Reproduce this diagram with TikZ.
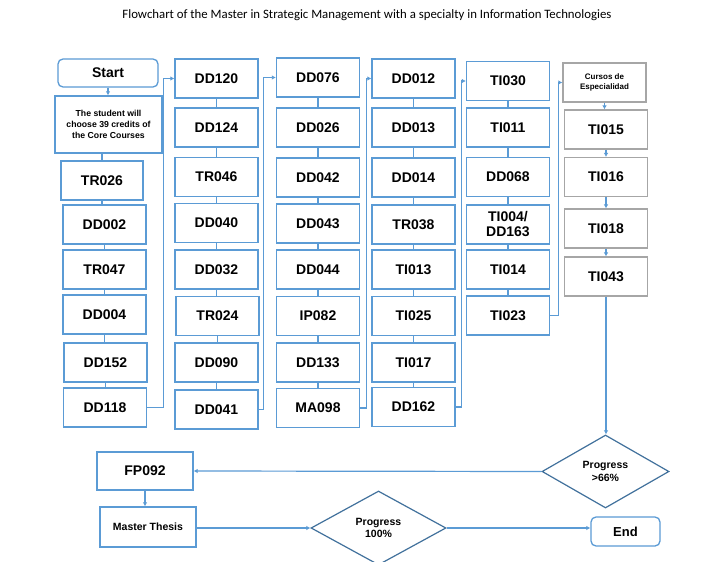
\documentclass[tikz,border=0pt]{standalone}
\usepackage{fontspec}
\setmainfont{Liberation Sans}
\newfontfamily\titlefont{Carlito}
\usetikzlibrary{arrows.meta,shapes.geometric}
\definecolor{bx}{HTML}{5B9BD5}
\definecolor{gr}{HTML}{A6A6A6}
\definecolor{dm}{HTML}{41719C}
\tikzset{
  box/.style={draw=bx, line width=1.3pt, fill=white, minimum width=83pt, minimum height=39pt,
    inner sep=0pt, align=center, font=\bfseries\fontsize{14}{16}\selectfont},
  gbox/.style={box, draw=gr, line width=1.1pt},
  rbox/.style={box, rounded corners=5pt},
  dia/.style={diamond, draw=dm, line width=1.2pt, inner sep=0pt, align=center,
    font=\bfseries\fontsize{10.5}{12.3}\selectfont},
  con/.style={draw=bx, line width=1.2pt},
  arr/.style={con, -{Latex[length=4pt,width=4.5pt]}},
}
\begin{document}
\begin{tikzpicture}[x=1pt,y=-1pt]
\clip (0,0) rectangle (716,562);
\fill[white] (0,0) rectangle (716,562);
\node[font=\titlefont\fontsize{12.8}{15}\selectfont] (title) at (367,15) {Flowchart of the Master in Strategic Management with a specialty in Information Technologies};

% column 1
\node[rbox, minimum width=100pt, minimum height=28pt] (start) at (108,73) {Start};
\node[box, minimum width=107pt, minimum height=57pt, font=\bfseries\fontsize{8.7}{11}\selectfont] (student) at (108.5,124.5) {The student will\\choose 39 credits of\\the Core Courses};
\node[box, minimum width=82pt] (tr026) at (102,180.5) {TR026};
\node[box] (dd002) at (104.5,224.5) {DD002};
\node[box] (tr047) at (104.5,269.5) {TR047};
\node[box] (dd004) at (104.5,314.5) {DD004};
\node[box] (dd152) at (105.5,362.5) {DD152};
\node[box] (dd118) at (105,407.5) {DD118};

% column 2
\node[box] (dd120) at (216.5,78.5) {DD120};
\node[box] (dd124) at (216.5,127.5) {DD124};
\node[box] (tr046) at (216.5,177) {TR046};
\node[box] (dd040) at (216.5,223) {DD040};
\node[box] (dd032) at (216.5,269.5) {DD032};
\node[box] (tr024) at (217.5,316) {TR024};
\node[box] (dd090) at (216.5,362.5) {DD090};
\node[box] (dd041) at (216.5,409.5) {DD041};

% column 3
\node[box] (dd076) at (318,77.5) {DD076};
\node[box] (dd026) at (318,127.5) {DD026};
\node[box] (dd042) at (318,177.5) {DD042};
\node[box] (dd043) at (318,223.5) {DD043};
\node[box] (dd044) at (318,269.5) {DD044};
\node[box] (ip082) at (318,316) {IP082};
\node[box] (dd133) at (318,362.5) {DD133};
\node[box] (ma098) at (318,408) {MA098};

% column 4
\node[box] (dd012) at (413.5,78.5) {DD012};
\node[box] (dd013) at (413.5,127.5) {DD013};
\node[box] (dd014) at (413.5,177.5) {DD014};
\node[box] (tr038) at (413.5,224.5) {TR038};
\node[box] (ti013) at (413.5,269.5) {TI013};
\node[box] (ti025) at (413.5,316) {TI025};
\node[box] (ti017) at (413.5,362.5) {TI017};
\node[box] (dd162) at (413.5,407) {DD162};

% column 5
\node[box] (ti030) at (508,81) {TI030};
\node[box] (ti011) at (508,127.5) {TI011};
\node[box] (dd068) at (508,177) {DD068};
\node[box, font=\bfseries\fontsize{14}{15}\selectfont] (ti004) at (508,224.5) {TI004/\\DD163};
\node[box] (ti014) at (508,269.5) {TI014};
\node[box] (ti023) at (508,315.5) {TI023};

% column 6 (specialty)
\node[gbox, font=\bfseries\fontsize{8}{10.5}\selectfont] (cursos) at (604.5,82.5) {Cursos de\\Especialidad};
\node[gbox] (ti015) at (606,129.5) {TI015};
\node[gbox] (ti016) at (606,177) {TI016};
\node[gbox] (ti018) at (606,228.5) {TI018};
\node[gbox] (ti043) at (606,276.5) {TI043};

% bottom
\node[dia, minimum width=127pt, minimum height=73pt] (p66) at (605.5,471.5) {Progress\\>66\%};
\node[box, minimum width=96pt, minimum height=38pt] (fp092) at (145,471) {FP092};
\node[box, minimum width=96pt, minimum height=40pt, font=\bfseries\fontsize{10.5}{12}\selectfont] (thesis) at (148,527) {Master Thesis};
\node[dia, minimum width=135pt, minimum height=74pt] (p100) at (378.5,528) {Progress\\100\%};
\node[rbox, minimum width=69pt, minimum height=29pt, font=\bfseries\fontsize{13}{15}\selectfont] (end) at (625.5,531.5) {End};

% connectors column 1
\draw[arr] (start.south) -- (start.south |- student.north);
\draw[con] (tr026.north) -- (tr026.north |- student.south);
\foreach \a/\b in {tr026/dd002, dd002/tr047, tr047/dd004, dd004/dd152, dd152/dd118,
  dd120/dd124, dd124/tr046, tr046/dd040, dd040/dd032, dd032/tr024, tr024/dd090, dd090/dd041,
  dd076/dd026, dd026/dd042, dd042/dd043, dd043/dd044, dd044/ip082, ip082/dd133, dd133/ma098,
  dd012/dd013, dd013/dd014, dd014/tr038, tr038/ti013, ti013/ti025, ti025/ti017, ti017/dd162,
  ti030/ti011, ti011/dd068, dd068/ti004, ti004/ti014, ti014/ti023}
  \draw[con] (\a.south) -- (\a.south |- \b.north);
\foreach \a/\b in {cursos/ti015, ti015/ti016, ti016/ti018, ti018/ti043}
  \draw[arr] (\a.south) -- (\a.south |- \b.north);

% column links
\draw[arr] (dd118.east) -- ++(16,0) |- (dd120.west);
\draw[arr] (dd041.east) -- ++(5,0) |- (dd076.west);
\draw[arr] (ma098.east) -- ++(6,0) |- (dd012.west);
\draw[arr] (dd162.east) -- ++(6,0) |- (ti030.west);
\draw[arr] (ti023.east) -- ++(8,0) |- (cursos.west);

% bottom flow
\draw[arr] (ti043.south) -- (ti043.south |- p66.north);
\draw[arr] (p66.west) -- (fp092.east);
\draw[arr] (fp092.south) -- (fp092.south |- thesis.north);
\draw[arr] (thesis.east) -- (thesis.east |- p100.west) -- (p100.west);
\draw[arr] (p100.east) -- (p100.east -| end.west);
\end{tikzpicture}
\end{document}
